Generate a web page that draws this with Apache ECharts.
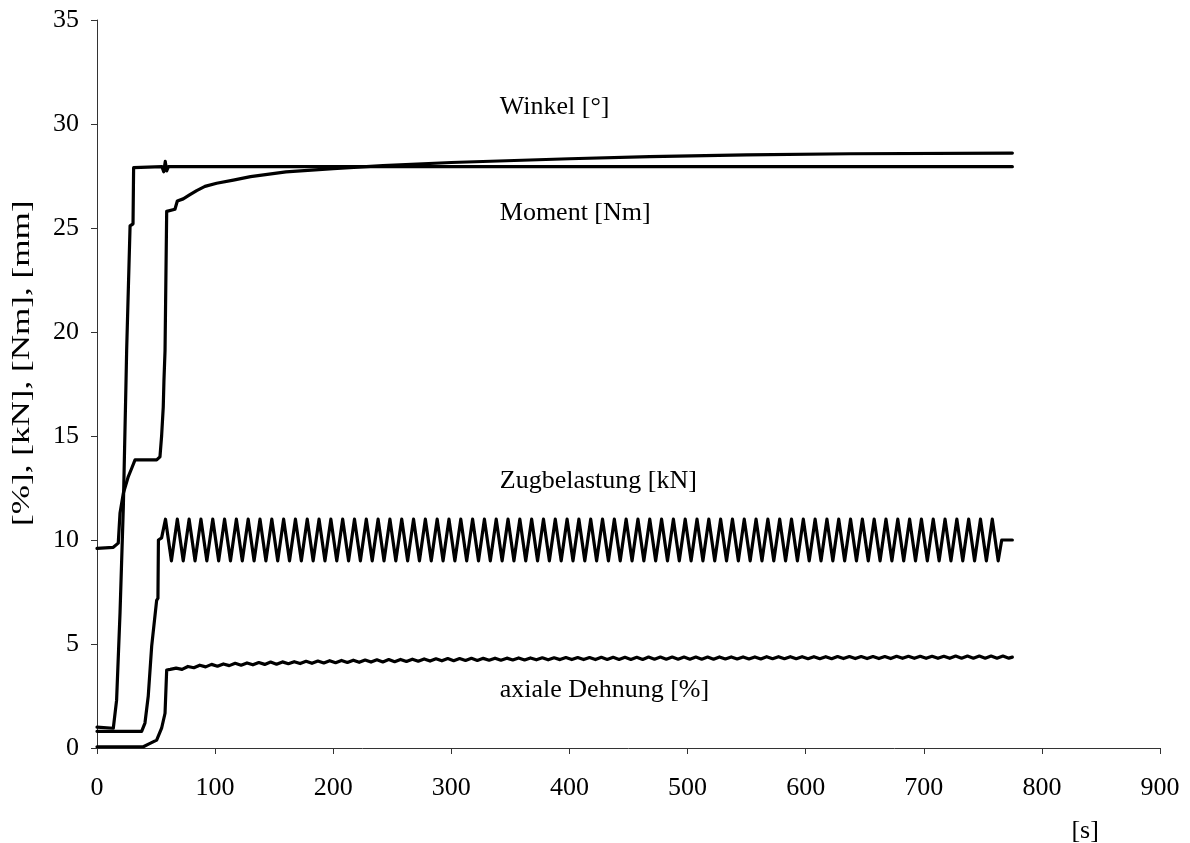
<!DOCTYPE html>
<html>
<head>
<meta charset="utf-8">
<script src="https://cdn.jsdelivr.net/npm/echarts@6/dist/echarts.min.js"></script>
<style>
  html, body { margin: 0; padding: 0; background: #fff; }
  #chart { width: 1190px; height: 843px; }
</style>
</head>
<body>
<div id="chart"></div>
<script>
// axis ticks
var xTicks = { min: 0, max: 900, step: 100 };
var yTicks = { min: 0, max: 35, step: 5 };

// Winkel [°] - starts near 9.7, creeps up to 28.6
var winkelData = [
  [0, 9.6], [13.8, 9.65], [18, 9.85], [19.5, 11.3], [22.3, 12.25], [26.5, 13.05], [29.4, 13.45],
  [32.2, 13.85], [50.5, 13.85], [53.3, 14.0], [54.7, 15.0], [56.1, 16.4], [56.7, 17.7], [57.6, 19.1],
  [59, 25.8], [66, 25.9], [68, 26.3], [73, 26.4], [78.7, 26.6], [84.4, 26.8], [91.4, 27.0],
  [101.3, 27.15], [115.4, 27.3], [130, 27.47], [160, 27.7], [200, 27.85], [242, 28.0], [300, 28.15],
  [400, 28.33], [468, 28.43], [550, 28.52], [638, 28.57], [775, 28.6]
];

// Moment [Nm] - steep rise to ~27.95, then flat
var momentData = [
  [0, 1.0], [13.8, 0.95], [16.6, 2.3], [19.5, 6.5], [22.3, 11.6], [24.6, 17.7], [25.1, 19.1],
  [28, 25.1], [30.5, 25.2], [31, 27.9], [55, 27.95], [56.5, 27.7], [57.8, 28.2], [59, 27.75],
  [60.5, 27.95], [300, 27.95], [500, 27.95], [775, 27.95]
];

// Zugbelastung [kN] - ramp to 10 then cycling 9..11
var zugData = [
  [0, 0.8], [37.8, 0.8], [40.6, 1.2], [43.4, 2.5], [46.3, 4.9], [50.5, 7.1], [51.6, 7.2], [52, 10], [54.7, 10.1],
  [58, 11], [63, 9], [68, 11], [73, 9], [78, 11], [83, 9], [88, 11], [93, 9], [98, 11], [103, 9],
  [108, 11], [113, 9], [118, 11], [123, 9], [128, 11], [133, 9], [138, 11], [143, 9], [148, 11], [153, 9],
  [158, 11], [163, 9], [168, 11], [173, 9], [178, 11], [183, 9], [188, 11], [193, 9], [198, 11], [203, 9],
  [208, 11], [213, 9], [218, 11], [223, 9], [228, 11], [233, 9], [238, 11], [243, 9], [248, 11], [253, 9],
  [258, 11], [263, 9], [268, 11], [273, 9], [278, 11], [283, 9], [288, 11], [293, 9], [298, 11], [303, 9],
  [308, 11], [313, 9], [318, 11], [323, 9], [328, 11], [333, 9], [338, 11], [343, 9], [348, 11], [353, 9],
  [358, 11], [363, 9], [368, 11], [373, 9], [378, 11], [383, 9], [388, 11], [393, 9], [398, 11], [403, 9],
  [408, 11], [413, 9], [418, 11], [423, 9], [428, 11], [433, 9], [438, 11], [443, 9], [448, 11], [453, 9],
  [458, 11], [463, 9], [468, 11], [473, 9], [478, 11], [483, 9], [488, 11], [493, 9], [498, 11], [503, 9],
  [508, 11], [513, 9], [518, 11], [523, 9], [528, 11], [533, 9], [538, 11], [543, 9], [548, 11], [553, 9],
  [558, 11], [563, 9], [568, 11], [573, 9], [578, 11], [583, 9], [588, 11], [593, 9], [598, 11], [603, 9],
  [608, 11], [613, 9], [618, 11], [623, 9], [628, 11], [633, 9], [638, 11], [643, 9], [648, 11], [653, 9],
  [658, 11], [663, 9], [668, 11], [673, 9], [678, 11], [683, 9], [688, 11], [693, 9], [698, 11], [703, 9],
  [708, 11], [713, 9], [718, 11], [723, 9], [728, 11], [733, 9], [738, 11], [743, 9], [748, 11], [753, 9],
  [758, 11], [763, 9], [766, 10], [775, 10]
];

// axiale Dehnung [%] - small ripple around ~4
var dehnungData = [
  [0, 0.06], [39.2, 0.06], [44.9, 0.22], [50.5, 0.38], [54.7, 0.95], [57.6, 1.67], [59, 3.75], [62, 3.78],
  [67, 3.84], [72, 3.78], [77, 3.92], [82, 3.86], [87, 3.98], [92, 3.90], [97, 4.02], [102, 3.93],
  [107, 4.04], [112, 3.96], [117, 4.07], [122, 3.98], [127, 4.09], [132, 4.00], [137, 4.11], [142, 4.02],
  [147, 4.13], [152, 4.03], [157, 4.14], [162, 4.05], [167, 4.15], [172, 4.06], [177, 4.17], [182, 4.07],
  [187, 4.18], [192, 4.09], [197, 4.20], [202, 4.10], [207, 4.21], [212, 4.11], [217, 4.22], [222, 4.12],
  [227, 4.23], [232, 4.13], [237, 4.24], [242, 4.14], [247, 4.25], [252, 4.15], [257, 4.26], [262, 4.16],
  [267, 4.27], [272, 4.17], [277, 4.28], [282, 4.18], [287, 4.29], [292, 4.19], [297, 4.30], [302, 4.20],
  [307, 4.30], [312, 4.21], [317, 4.31], [322, 4.21], [327, 4.31], [332, 4.22], [337, 4.32], [342, 4.22],
  [347, 4.32], [352, 4.23], [357, 4.33], [362, 4.23], [367, 4.33], [372, 4.24], [377, 4.34], [382, 4.24],
  [387, 4.34], [392, 4.25], [397, 4.35], [402, 4.25], [407, 4.35], [412, 4.25], [417, 4.35], [422, 4.25],
  [427, 4.36], [432, 4.26], [437, 4.36], [442, 4.26], [447, 4.36], [452, 4.26], [457, 4.36], [462, 4.26],
  [467, 4.37], [472, 4.27], [477, 4.37], [482, 4.27], [487, 4.37], [492, 4.27], [497, 4.37], [502, 4.27],
  [507, 4.37], [512, 4.27], [517, 4.37], [522, 4.27], [527, 4.38], [532, 4.28], [537, 4.38], [542, 4.28],
  [547, 4.38], [552, 4.28], [557, 4.38], [562, 4.28], [567, 4.39], [572, 4.29], [577, 4.39], [582, 4.29],
  [587, 4.39], [592, 4.29], [597, 4.39], [602, 4.29], [607, 4.39], [612, 4.29], [617, 4.39], [622, 4.29],
  [627, 4.40], [632, 4.30], [637, 4.40], [642, 4.30], [647, 4.40], [652, 4.30], [657, 4.40], [662, 4.30],
  [667, 4.40], [672, 4.30], [677, 4.41], [682, 4.31], [687, 4.41], [692, 4.31], [697, 4.41], [702, 4.31],
  [707, 4.41], [712, 4.31], [717, 4.41], [722, 4.31], [727, 4.42], [732, 4.32], [737, 4.42], [742, 4.32],
  [747, 4.42], [752, 4.32], [757, 4.42], [762, 4.32], [767, 4.42], [772, 4.32], [775, 4.37]
];

// curve labels, anchored in data coordinates (left edge, vertical middle)
var curveLabels = [
  { text: 'Winkel [°]', x: 341, y: 30.7 },
  { text: 'Moment [Nm]', x: 341, y: 25.6 },
  { text: 'Zugbelastung [kN]', x: 341, y: 12.75 },
  { text: 'axiale Dehnung [%]', x: 341, y: 2.7 }
];
var yTitle = '[%], [kN], [Nm], [mm]';
var xTitle = '[s]';

var FONT = '"Liberation Serif", "Times New Roman", serif';
var chart = echarts.init(document.getElementById('chart'), null, { renderer: 'canvas' });

function lineSeries(name, data) {
  return {
    name: name,
    type: 'line',
    data: data,
    symbol: 'none',
    smooth: false,
    animation: false,
    lineStyle: { color: '#000', width: 3.2, join: 'round', cap: 'round' }
  };
}

var option = {
  backgroundColor: '#fff',
  animation: false,
  textStyle: { fontFamily: FONT, color: '#000' },
  grid: { left: 97, right: 30, top: 20, bottom: 95, containLabel: false },
  xAxis: {
    type: 'value',
    min: xTicks.min, max: xTicks.max, interval: xTicks.step,
    axisLine: { show: true, lineStyle: { color: '#333', width: 1 } },
    axisTick: { show: true, inside: false, length: 6, lineStyle: { color: '#333' } },
    axisLabel: { fontFamily: FONT, fontSize: 26, color: '#000', margin: 27 },
    splitLine: { show: false }
  },
  yAxis: {
    type: 'value',
    min: yTicks.min, max: yTicks.max, interval: yTicks.step,
    axisLine: { show: true, lineStyle: { color: '#333', width: 1 } },
    axisTick: { show: true, inside: false, length: 6, lineStyle: { color: '#333' } },
    axisLabel: { fontFamily: FONT, fontSize: 26, color: '#000', margin: 18 },
    splitLine: { show: false }
  },
  series: [
    lineSeries('Winkel', winkelData),
    lineSeries('Moment', momentData),
    lineSeries('Zugbelastung', zugData),
    lineSeries('axiale Dehnung', dehnungData)
  ]
};
chart.setOption(option);

// place the curve labels and the axis titles through the axis scales
var graphics = curveLabels.map(function (lb) {
  var p = chart.convertToPixel({ gridIndex: 0 }, [lb.x, lb.y]);
  return {
    type: 'text', left: p[0], top: p[1] - 15, silent: true,
    style: { text: lb.text, font: '26px ' + FONT, fill: '#000' }
  };
});
var unitPos = chart.convertToPixel({ gridIndex: 0 }, [825, 0]);
graphics.push({
  type: 'text', left: unitPos[0], top: unitPos[1] + 70, silent: true,
  style: { text: xTitle, font: '26px ' + FONT, fill: '#000' }
});
// y title left of the axis, a bit stretched along its length like the original
var yTitlePos = chart.convertToPixel({ gridIndex: 0 }, [0, 18.5]);
graphics.push({
  type: 'text', x: yTitlePos[0] - 75, y: yTitlePos[1], rotation: Math.PI / 2, scaleX: 1.35,
  silent: true,
  style: { text: yTitle, font: '26px ' + FONT, fill: '#000', align: 'center', verticalAlign: 'middle' }
});
chart.setOption({ graphic: graphics });
</script>
</body>
</html>
